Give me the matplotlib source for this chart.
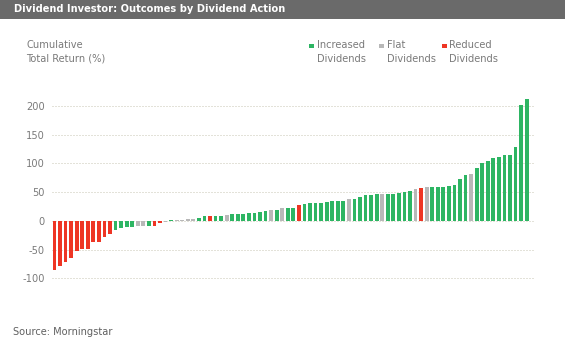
import matplotlib
matplotlib.use("Agg")
import matplotlib.pyplot as plt
from matplotlib.patches import Rectangle

W, H = 565, 343

# Cumulative total return (%) per stock, sorted ascending
returns = [-85, -78, -72, -64, -52, -49, -48, -36.5, -36.5, -27, -22.6,
           -15, -12, -10, -10, -8.7, -8.7, -8.7, -8.7, -4, -1,
           1, 1.7, 1.7, 3.5, 3.5, 5, 8, 8, 9, 9, 10, 11.6, 11.6, 12.8, 14, 14,
           15.6, 17.4, 19, 19, 22, 23, 23, 27.8,
           29.6, 31.3, 31.3, 31.3, 32.5, 34.2, 35.4, 35.4, 37.7, 38.8, 41.7,
           44.6, 44.6, 46.4, 46.4, 47.5, 47.5, 49.3, 50.4, 52.2, 55.7, 56.8, 59.7,
           59.7, 59.7, 59.7, 61.4, 62.6, 73.6, 80, 81.7, 91.6, 100.9, 104.3,
           109, 111.9, 114.8, 114.8, 128.7, 201, 212.8]

# Dividend action per stock: I = increased, F = flat, R = reduced
actions = list("RRRRRRRRRRR" "IIII" "FF" "I" "RR" "F"
               "I" "FFFF" "II" "R" "II" "F" "IIIIIII" "F" "I" "F" "II" "R"
               "IIIIIIII" "F" "IIIII" "F" "IIIII" "F" "R" "F"
               "IIIIIII" "F" "IIIIIIIIII")

legend_labels = ["Increased\nDividends", "Flat\nDividends", "Reduced\nDividends"]
legend_keys = ["I", "F", "R"]
yticks = [-100, -50, 0, 50, 100, 150, 200]

colors = {"I": "#2db563", "F": "#b8b8b8", "R": "#ee3524"}
text_gray = "#7a7a7a"
fs = 7.1


def px(x, y):
    return x / W, 1 - y / H


fig = plt.figure(figsize=(W / 100, H / 100), dpi=100)
fig.patch.set_facecolor("white")

# header band
fig.patches.append(Rectangle((0, 1 - 18.5 / H), 1, 18.5 / H,
                             transform=fig.transFigure, facecolor="#6a6a6a",
                             edgecolor="none", zorder=0))
fig.text(*px(14, 9.5), "Dividend Investor: Outcomes by Dividend Action",
         color="white", fontsize=7.1, fontweight="bold", va="center", ha="left")

# axis title
fig.text(*px(26.5, 45), "Cumulative", color=text_gray, fontsize=fs,
         va="center", ha="left")
fig.text(*px(26.5, 58.5), "Total Return (%)", color=text_gray, fontsize=fs,
         va="center", ha="left")

# legend
legend_x = [309, 379, 442]
for lx, lab, key in zip(legend_x, legend_labels, legend_keys):
    fig.patches.append(Rectangle(px(lx, 48), 4.5 / W, 4.5 / H,
                                 transform=fig.transFigure,
                                 facecolor=colors[key], edgecolor="none"))
    l1, l2 = lab.split("\n")
    fig.text(*px(lx + 7.5, 45.5), l1, color=text_gray, fontsize=fs,
             va="center", ha="left")
    fig.text(*px(lx + 7.5, 58.5), l2, color=text_gray, fontsize=fs,
             va="center", ha="left")

# source note
fig.text(*px(13, 332), "Source: Morningstar", color="#606060", fontsize=fs,
         va="center", ha="left")

# plot area
left_px, right_px = 51.7, 535
top_px, bot_px = 94.5, 287.1
ax = fig.add_axes([left_px / W, 1 - bot_px / H,
                   (right_px - left_px) / W, (bot_px - top_px) / H])
ax.set_facecolor("none")

xs = list(range(len(returns)))
ax.bar(xs, returns, width=0.68, color=[colors[a] for a in actions],
       linewidth=0, zorder=2)

ax.set_xlim(-0.5, len(returns) + 0.5)
ax.set_ylim(-115, 220)
ax.set_yticks(yticks)
ax.set_yticklabels([str(t) for t in yticks])
ax.set_xticks([])
for t in yticks:
    ax.axhline(t, color="#c9c6b4", linewidth=0.72, linestyle=(0, (1, 2)),
               zorder=1)
ax.tick_params(axis="y", length=0, pad=4.8, labelsize=fs, labelcolor=text_gray)
for s in ax.spines.values():
    s.set_visible(False)

fig.savefig("out.png", dpi=100, facecolor="white")
